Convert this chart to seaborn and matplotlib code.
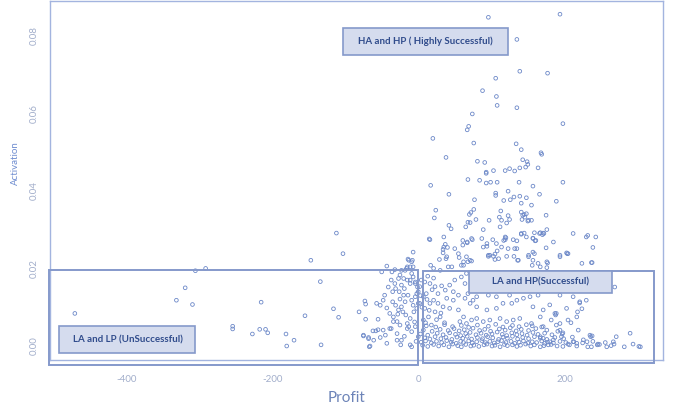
import matplotlib
matplotlib.use("Agg")
import matplotlib.pyplot as plt
from matplotlib.patches import Rectangle
import seaborn as sns
import pandas as pd

# (profit, activation) observations, grouped by area of the plane
high_activation = [
    (95, 0.0847), (193, 0.0855), (134, 0.0790), (138, 0.0708), (176, 0.0703), (105, 0.0690),
    (87, 0.0658), (106, 0.0643), (107, 0.0620), (134, 0.0614), (73, 0.0598), (197, 0.0573),
    (68, 0.0566), (66, 0.0557), (19, 0.0535), (75, 0.0523), (133, 0.0521), (140, 0.0506),
    (167, 0.0498), (168, 0.0494), (37, 0.0486), (142, 0.0480), (80, 0.0476), (90, 0.0473),
    (148, 0.0475), (149, 0.0468), (92, 0.0448), (92, 0.0445), (102, 0.0452), (118, 0.0452),
    (124, 0.0457), (131, 0.0451), (138, 0.0459), (146, 0.0461), (163, 0.0459), (16, 0.0414),
    (67, 0.0429), (83, 0.0427), (92, 0.0420), (98, 0.0422), (107, 0.0422), (137, 0.0422),
    (156, 0.0412), (197, 0.0422), (41, 0.0391), (105, 0.0394), (105, 0.0388), (122, 0.0399),
    (116, 0.0375), (125, 0.0377), (130, 0.0384), (138, 0.0386), (147, 0.0382), (165, 0.0391),
    (76, 0.0377), (140, 0.0368), (23, 0.0350), (21, 0.0330), (71, 0.0344), (69, 0.0339),
    (75, 0.0352), (78, 0.0326), (70, 0.0318), (154, 0.0363), (140, 0.0345), (142, 0.0337),
    (147, 0.0341), (150, 0.0324), (154, 0.0324), (174, 0.0337), (188, 0.0373), (145, 0.0332),
    (112, 0.0348), (110, 0.0332), (113, 0.0324), (122, 0.0336), (124, 0.0326), (120, 0.0317),
    (111, 0.0307), (144, 0.0339), (141, 0.0326), (149, 0.0322), (96, 0.0324), (88, 0.0300),
    (41, 0.0311), (44, 0.0302), (64, 0.0307), (67, 0.0319),
]

medium_activation = [
    (14, 0.0276), (34, 0.0281), (60, 0.0272), (66, 0.0266), (73, 0.0274), (86, 0.0277),
    (93, 0.0264), (101, 0.0274), (119, 0.0279), (116, 0.0272), (129, 0.0274), (134, 0.0271),
    (156, 0.0277), (159, 0.0271), (165, 0.0290), (170, 0.0291), (175, 0.0300), (184, 0.0268),
    (202, 0.0240), (211, 0.0290), (229, 0.0281), (238, 0.0254), (242, 0.0281), (231, 0.0285),
    (237, 0.0215), (204, 0.0238), (140, 0.0290), (144, 0.0291), (147, 0.0281), (158, 0.0292),
    (166, 0.0292), (171, 0.0290), (169, 0.0287), (140, 0.0288), (156, 0.0278), (160, 0.0272),
    (174, 0.0253), (156, 0.0242), (158, 0.0238), (150, 0.0230), (203, 0.0238), (193, 0.0230),
    (156, 0.0221), (155, 0.0208), (166, 0.0204), (176, 0.0214), (175, 0.0202), (236, 0.0215),
    (93, 0.0257), (88, 0.0255), (95, 0.0231), (97, 0.0234), (118, 0.0281), (118, 0.0274),
    (106, 0.0264), (107, 0.0245), (102, 0.0231), (104, 0.0223), (113, 0.0255), (122, 0.0251),
    (131, 0.0251), (134, 0.0251), (130, 0.0231), (135, 0.0221), (60, 0.0260), (66, 0.0268),
    (72, 0.0277), (49, 0.0251), (55, 0.0228), (61, 0.0217), (67, 0.0217), (72, 0.0219),
    (58, 0.0208), (40, 0.0204), (38, 0.0230), (37, 0.0225), (34, 0.0255), (39, 0.0254),
    (33, 0.0240), (28, 0.0223), (16, 0.0208), (15, 0.0274), (20, 0.0200), (29, 0.0195),
    (54, 0.0238), (65, 0.0230), (70, 0.0221), (95, 0.0234), (104, 0.0237), (109, 0.0225),
    (120, 0.0231), (136, 0.0221), (150, 0.0234), (163, 0.0213), (175, 0.0217), (193, 0.0234),
    (223, 0.0213), (45, 0.0204), (61, 0.0208), (36, 0.0262), (33, 0.0249),
]

negative_profit = [
    (-471, 0.0084), (-320, 0.0150), (-332, 0.0118), (-310, 0.0107), (-306, 0.0194),
    (-292, 0.0200), (-255, 0.0051), (-255, 0.0044), (-228, 0.0031), (-218, 0.0043),
    (-210, 0.0043), (-207, 0.0034), (-216, 0.0113), (-182, 0.0031), (-181, 0.0000),
    (-171, 0.0015), (-156, 0.0078), (-148, 0.0221), (-135, 0.0166), (-134, 0.0003),
    (-117, 0.0096), (-110, 0.0074), (-113, 0.0291), (-104, 0.0238), (-82, 0.0088),
    (-74, 0.0116), (-73, 0.0108), (-73, 0.0069), (-56, 0.0069), (-63, 0.0039),
    (-59, 0.0039), (-56, 0.0042), (-76, 0.0028), (-69, 0.0022), (-67, 0.0000),
    (-49, 0.0041), (-44, 0.0007), (-40, 0.0045), (-76, 0.0026), (-69, 0.0019),
    (-62, 0.0015), (-53, 0.0022), (-46, 0.0028), (-30, 0.0015), (-25, 0.0003),
    (-10, -0.0002), (-68, -0.0002), (-38, 0.0045),
    (-8, 0.0242), (-15, 0.0224), (-10, 0.0217), (-12, 0.0204), (-17, 0.0200),
    (-44, 0.0206), (-37, 0.0191), (-51, 0.0191), (-14, 0.0221), (-9, 0.0221),
    (-16, 0.0204), (-33, 0.0197), (-24, 0.0195), (-8, 0.0204), (-19, 0.0195), (-10, 0.0187),
    (-38, 0.0170), (-33, 0.0161), (-28, 0.0174), (-24, 0.0157), (-20, 0.0148), (-16, 0.0170),
    (-12, 0.0161), (-8, 0.0178), (-5, 0.0165), (-2, 0.0152), (-1, 0.0140), (-5, 0.0127),
    (-10, 0.0118), (-15, 0.0131), (-19, 0.0114), (-24, 0.0101), (-28, 0.0093), (-32, 0.0105),
    (-36, 0.0114), (-35, 0.0075), (-30, 0.0063), (-26, 0.0054), (-16, 0.0058), (-12, 0.0071),
    (-7, 0.0088), (-3, 0.0097), (-1, 0.0110), (-5, 0.0050), (-10, 0.0037), (-1, 0.0024),
    (-12, 0.0003), (-24, 0.0015), (-30, 0.0032), (-40, 0.0084), (-35, 0.0063), (-16, 0.0045),
    (-14, 0.0050), (-21, 0.0131), (-27, 0.0140), (-32, 0.0148), (-36, 0.0140), (-42, 0.0152),
    (-47, 0.0131), (-49, 0.0118), (-53, 0.0105), (-58, 0.0110), (-26, 0.0121), (-22, 0.0088),
    (-8, 0.0105), (-3, 0.0135), (-18, 0.0080), (-29, 0.0082), (-44, 0.0098), (-6, 0.0062),
    (-20, 0.0025), (-4, 0.0012),
]

low_activation = [
    (-26, 0.0183), (-21, 0.0174), (-12, 0.0170), (-5, 0.0161), (1, 0.0153), (8, 0.0165),
    (15, 0.0161), (22, 0.0153), (26, 0.0135), (10, 0.0135), (6, 0.0127), (1, 0.0110),
    (8, 0.0097), (15, 0.0110), (20, 0.0118), (22, 0.0088), (13, 0.0075), (6, 0.0067),
    (17, 0.0054), (29, 0.0075), (33, 0.0101), (42, 0.0097), (47, 0.0118), (38, 0.0123),
    (36, 0.0144), (54, 0.0093), (61, 0.0075), (56, 0.0063), (65, 0.0058), (72, 0.0067),
    (79, 0.0071), (88, 0.0063), (97, 0.0067), (111, 0.0071), (120, 0.0063), (129, 0.0067),
    (138, 0.0071), (79, 0.0101), (93, 0.0093), (106, 0.0097), (115, 0.0110), (127, 0.0110),
    (134, 0.0118), (143, 0.0123), (152, 0.0127), (163, 0.0131), (79, 0.0127), (74, 0.0118),
    (67, 0.0135), (63, 0.0123), (70, 0.0110), (83, 0.0144), (95, 0.0131), (106, 0.0127),
    (156, 0.0101), (170, 0.0093), (179, 0.0106), (188, 0.0084), (202, 0.0097), (211, 0.0127),
    (220, 0.0114), (229, 0.0118), (204, 0.0067), (216, 0.0075), (193, 0.0058), (181, 0.0067),
    (170, 0.0050), (154, 0.0058), (166, 0.0075), (220, 0.0144), (193, 0.0131), (202, 0.0153),
    (181, 0.0144), (124, 0.0131), (115, 0.0144), (102, 0.0153), (42, 0.0157), (49, 0.0170),
    (58, 0.0178), (65, 0.0187), (74, 0.0178), (86, 0.0178), (47, 0.0140), (54, 0.0131),
    (63, 0.0161), (268, 0.0152), (220, 0.0111), (223, 0.0096), (217, 0.0088), (208, 0.0060),
    (186, 0.0084), (187, 0.0080), (188, 0.0054), (3, 0.0170), (12, 0.0180), (18, 0.0145),
    (4, 0.0100), (11, 0.0120), (26, 0.0110), (30, 0.0085), (9, 0.0060), (24, 0.0068),
    (35, 0.0060), (2, 0.0130), (14, 0.0092), (20, 0.0175), (31, 0.0155),
]

near_zero = [
    (5, 0.0002), (12, -0.0001), (20, 0.0004), (27, 0.0000), (34, 0.0003), (41, -0.0002),
    (46, 0.0005), (53, 0.0001), (58, -0.0002), (64, 0.0004), (71, 0.0000), (75, 0.0002),
    (82, -0.0001), (89, 0.0003), (93, 0.0005), (100, 0.0000), (104, 0.0002), (111, -0.0002),
    (117, 0.0004), (121, 0.0001), (128, 0.0003), (134, -0.0001), (139, 0.0002), (146, 0.0005),
    (153, 0.0000), (158, 0.0003), (166, -0.0002), (171, 0.0001), (181, 0.0004), (189, 0.0000),
    (197, -0.0001), (206, 0.0003), (216, 0.0000), (231, -0.0002), (247, 0.0004), (263, 0.0001),
    (281, -0.0002), (301, -0.0001),
    (3, 0.0010), (9, 0.0013), (17, 0.0008), (24, 0.0012), (31, 0.0009), (38, 0.0014),
    (44, 0.0010), (51, 0.0007), (57, 0.0012), (61, 0.0009), (68, 0.0013), (73, 0.0008),
    (79, 0.0011), (86, 0.0014), (91, 0.0009), (97, 0.0012), (103, 0.0008), (108, 0.0011),
    (113, 0.0014), (119, 0.0009), (126, 0.0012), (131, 0.0007), (137, 0.0010), (143, 0.0013),
    (149, 0.0008), (155, 0.0011), (161, 0.0009), (168, 0.0013), (176, 0.0010), (184, 0.0008),
    (193, 0.0012), (201, 0.0009), (212, 0.0011), (224, 0.0008), (238, 0.0012), (255, 0.0009),
    (8, 0.0021), (15, 0.0018), (22, 0.0024), (30, 0.0019), (37, 0.0022), (45, 0.0017),
    (52, 0.0023), (60, 0.0020), (66, 0.0025), (72, 0.0018), (80, 0.0022), (87, 0.0019),
    (94, 0.0024), (101, 0.0021), (109, 0.0017), (115, 0.0023), (121, 0.0020), (128, 0.0025),
    (135, 0.0018), (142, 0.0022), (150, 0.0019), (158, 0.0024), (166, 0.0020), (175, 0.0017),
    (186, 0.0022), (198, 0.0019), (210, 0.0023),
    (2, 0.0031), (12, 0.0028), (25, 0.0033), (33, 0.0029), (42, 0.0034), (50, 0.0030),
    (57, 0.0027), (64, 0.0032), (70, 0.0035), (78, 0.0029), (85, 0.0033), (92, 0.0028),
    (100, 0.0031), (107, 0.0036), (114, 0.0030), (120, 0.0027), (127, 0.0034), (134, 0.0029),
    (141, 0.0032), (148, 0.0028), (156, 0.0035), (163, 0.0030), (172, 0.0033), (182, 0.0029),
    (196, 0.0031),
    (6, 0.0041), (18, 0.0038), (29, 0.0043), (40, 0.0040), (48, 0.0045), (55, 0.0039),
    (62, 0.0042), (74, 0.0046), (83, 0.0040), (90, 0.0043), (98, 0.0038), (110, 0.0044),
    (118, 0.0041), (125, 0.0047), (133, 0.0039), (140, 0.0043), (150, 0.0040), (160, 0.0045),
    (175, 0.0041), (190, 0.0038),
    (10, 0.0052), (23, 0.0049), (35, 0.0055), (46, 0.0050), (58, 0.0053), (68, 0.0048),
    (80, 0.0054), (95, 0.0051), (105, 0.0056), (115, 0.0049), (128, 0.0053), (137, 0.0050),
    (147, 0.0055), (155, 0.0052), (168, 0.0049),
    (193, 0.0041), (197, 0.0034), (195, 0.0024), (234, 0.0028), (235, 0.0024), (289, 0.0033),
    (270, 0.0024), (266, 0.0011), (267, 0.0005), (257, -0.0002), (244, 0.0003), (237, 0.0026),
    (236, -0.0002), (293, 0.0005), (303, -0.0002), (218, 0.0041), (166, 0.0024), (170, 0.0020),
    (179, 0.0011), (184, 0.0016), (172, 0.0007), (177, 0.0003), (204, 0.0005), (211, 0.0011),
    (216, 0.0007), (225, 0.0016), (230, 0.0011), (245, 0.0005),
]

x_ticks = [-400, -200, 0, 200]
y_ticks = [0.00, 0.02, 0.04, 0.06, 0.08]

# outline boxes around the two low-activation segments: (x0, x1, y0, y1)
segment_frames = [(-506, -1, -0.0049, 0.0195), (5.5, 321, -0.0044, 0.0193)]
# segment captions with their box extents (x0, x1, y0, y1)
segment_labels = [
    ("HA and HP ( Highly Successful)", (-104, 122, 0.0751, 0.0820)),
    ("LA and HP(Successful)", (68, 264, 0.0136, 0.0193)),
    ("LA and LP (UnSuccessful)", (-492, -306, -0.0018, 0.0051)),
]

points = high_activation + medium_activation + negative_profit + low_activation + near_zero
df = pd.DataFrame(points, columns=["Profit", "Activation"])

sns.set_style("white")
plt.rcParams["font.family"] = ["Lato", "DejaVu Sans"]

frame_col = "#a3b4df"
tick_col = "#a2aecb"
mark_col = "#6c88c8"
box_edge = "#8599cb"

fig = plt.figure(figsize=(6.73, 4.12), dpi=100)
ax = fig.add_axes([50 / 673, 1 - 360 / 412, 613 / 673, 359 / 412])

sns.scatterplot(data=df, x="Profit", y="Activation", ax=ax, marker="o", s=7,
                color=mark_col, edgecolor=mark_col, linewidth=0.6, legend=False, zorder=3)
for coll in ax.collections:
    coll.set_facecolor("none")
    coll.set_edgecolor(mark_col)

ax.set_xlim(-505, 334)
ax.set_ylim(-0.0036, 0.0889)
ax.set_xticks(x_ticks)
ax.set_xticklabels([str(t) for t in x_ticks])
ax.set_yticks(y_ticks)
ax.set_yticklabels([f"{t:.2f}" for t in y_ticks], rotation=90, va="center")
ax.tick_params(axis="both", direction="out", length=4, width=0.8, color=frame_col,
               labelcolor=tick_col, labelsize=7)
ax.tick_params(axis="x", pad=7)
ax.tick_params(axis="y", pad=4)
ax.set_xlabel("")
ax.set_ylabel("")
for sp in ax.spines.values():
    sp.set_color(frame_col)
    sp.set_linewidth(1.0)

for x0, x1, y0, y1 in segment_frames:
    ax.add_patch(Rectangle((x0, y0), x1 - x0, y1 - y0, fill=False, edgecolor=box_edge,
                           linewidth=1.4, clip_on=False, zorder=4))

for text, (x0, x1, y0, y1) in segment_labels:
    ax.add_patch(Rectangle((x0, y0), x1 - x0, y1 - y0, facecolor="#d5dcee", edgecolor=box_edge,
                           linewidth=1.2, clip_on=False, zorder=5))
    ax.text((x0 + x1) / 2, (y0 + y1) / 2, text, ha="center", va="center", fontsize=7,
            fontweight="bold", color="#304c8c", zorder=6)

fig.text(347 / 673, 1 - 398 / 412, "Profit", ha="center", va="center", fontsize=11,
         color="#6d84b8")
fig.text(15 / 673, 1 - 163 / 412, "Activation", ha="center", va="center", rotation=90,
         fontsize=7, color="#6f8dd0")

fig.savefig("out.png", dpi=100)
